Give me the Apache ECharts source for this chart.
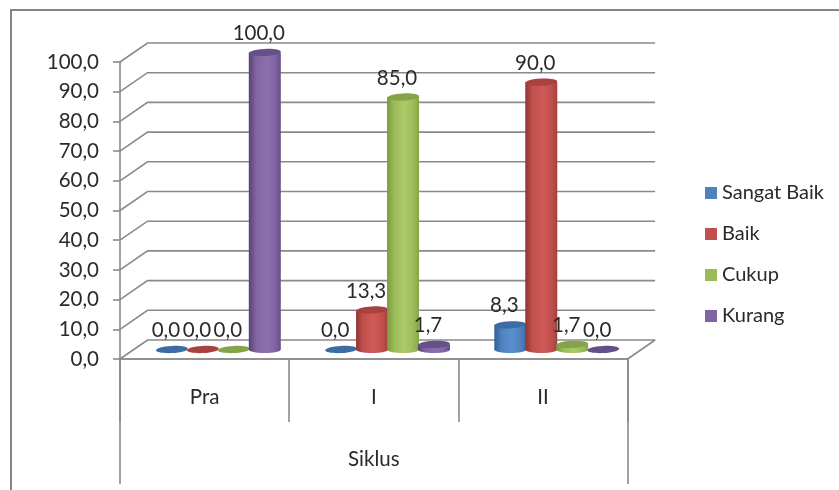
<!DOCTYPE html>
<html><head><meta charset="utf-8">
<style>html,body{margin:0;padding:0;background:#fff}#c{width:839px;height:490px}</style>
<script src="https://cdn.jsdelivr.net/npm/echarts@6/dist/echarts.min.js"></script>
</head><body><div id="c"></div>
<script>
var categories = ['Pra', 'I', 'II'];
var groupTitle = ['Siklus'];
var seriesNames = ['Sangat Baik', 'Baik', 'Cukup', 'Kurang'];
var sangatBaik = [0, 0, 8.3];
var baik = [0, 13.3, 90];
var cukup = [0, 85, 1.7];
var kurang = [100, 1.7, 0];
var yTicks = [0, 10, 20, 30, 40, 50, 60, 70, 80, 90, 100];

var FONT = 'Lato';
var TEXT = '#2a2a2a';
var LINE = '#8a8a8a';
var DEPTH_X = 27.5, DEPTH_Y = 19;
var SLOT = 0.183;
var RX = 16, RY = 3.6, TILT = 0.05;
var palette = [
  {base:'#4f81bd', edge:'#2f5f97', mid:'#5b90cf', right:'#3a6ea9', top:'#3d6ca4'},
  {base:'#c0504d', edge:'#8f3432', mid:'#d05a57', right:'#a53f3c', top:'#a8423f'},
  {base:'#9bbb59', edge:'#7a9a3c', mid:'#acca68', right:'#86a548', top:'#84a447'},
  {base:'#8064a2', edge:'#574272', mid:'#8d6fb0', right:'#664e88', top:'#66508a'}
];
function fmt(v){ return v.toFixed(1).replace('.', ','); }

function cylinder(si){
  return function(params, api){
    var cat = api.value(0), val = api.value(1);
    var band = api.size([1, 0])[0];
    var top = api.coord([cat, val]);
    var bot = api.coord([cat, 0]);
    var cx = top[0] + (si - 1.5) * SLOT * band + DEPTH_X / 2;
    var ty = top[1] - DEPTH_Y / 2, by = bot[1] - DEPTH_Y / 2;
    var p = palette[si];
    var grad = {type:'linear', x:0, y:0, x2:1, y2:0, colorStops:[
      {offset:0, color:p.edge},{offset:0.22, color:p.base},{offset:0.55, color:p.mid},{offset:0.82, color:p.base},{offset:1, color:p.right}]};
    var kids = [];
    if (val > 0) {
      kids.push({type:'ellipse', shape:{cx:cx, cy:by, rx:RX, ry:RY}, style:{fill:grad}, z2:si*3});
      kids.push({type:'rect', shape:{x:cx-RX, y:ty, width:RX*2, height:by-ty}, style:{fill:grad}, z2:si*3+1});
    }
    kids.push({type:'ellipse', x:cx, y:ty, rotation:TILT, shape:{cx:0, cy:0, rx:RX, ry:RY}, style:{fill:p.top}, z2:si*3+2});
    kids.push({type:'text', x:cx-6, y:ty-19, z2:50, style:{text:fmt(val), fill:TEXT, font:'20.5px '+FONT, align:'center', verticalAlign:'middle'}});
    return {type:'group', children:kids};
  };
}

function gridRender(params, api){
  var v = api.value(0);
  var cs = params.coordSys;
  var y = api.coord([0, v])[1];
  var x0 = cs.x, x1 = cs.x + cs.width;
  var st = {stroke:LINE, lineWidth:1.6, fill:'none'};
  var kids = [{type:'polyline', shape:{points:[[x0,y],[x0+DEPTH_X,y-DEPTH_Y],[x1+DEPTH_X,y-DEPTH_Y]]}, style:st}];
  if (v === 0) kids.push({type:'line', shape:{x1:x1, y1:y, x2:x1+DEPTH_X, y2:y-DEPTH_Y}, style:st});
  return {type:'group', children:kids};
}

var series = [{type:'custom', name:'grid', silent:true, renderItem:gridRender, xAxisIndex:0, yAxisIndex:0,
  data:yTicks.map(function(t){return [t];}), encode:{y:0}, z:1}];
[sangatBaik, baik, cukup, kurang].forEach(function(arr, si){
  series.push({type:'custom', name:seriesNames[si], renderItem:cylinder(si), xAxisIndex:0, yAxisIndex:0,
    itemStyle:{color:palette[si].base}, silent:true, z:3,
    data:arr.map(function(v,i){return [i,v];}), encode:{x:0,y:1}});
});

var axisLine = {show:true, onZero:false, lineStyle:{color:LINE, width:1.6}};
var chart = echarts.init(document.getElementById('c'), null, {renderer:'canvas'});
chart.setOption({
  animation:false,
  backgroundColor:'#ffffff',
  grid:{left:120, top:62, width:507.6, height:297, containLabel:false},
  legend:{data:seriesNames, orient:'vertical', left:705, top:183, icon:'rect', itemWidth:12, itemHeight:12, itemGap:21,
    textStyle:{fontFamily:FONT, fontSize:20, color:TEXT}, selectedMode:false, padding:0},
  xAxis:[
    {type:'category', data:categories, position:'bottom', axisLine:axisLine,
     axisTick:{show:true, length:63, lineStyle:{color:LINE, width:1.6}},
     axisLabel:{margin:28, fontFamily:FONT, fontSize:20.5, color:TEXT}},
    {type:'category', data:groupTitle, position:'bottom', axisLine:axisLine,
     axisTick:{show:true, length:125, lineStyle:{color:LINE, width:1.6}},
     axisLabel:{margin:90, fontFamily:FONT, fontSize:20.5, color:TEXT}}
  ],
  yAxis:{type:'value', min:0, max:100, interval:10, axisLine:axisLine,
    axisTick:{show:true, length:7, lineStyle:{color:LINE, width:1.6}},
    splitLine:{show:false},
    axisLabel:{margin:21, fontFamily:FONT, fontSize:20.5, color:TEXT, padding:[3,0,0,0], formatter:function(v){return fmt(v);}}},
  graphic:[{type:'polyline', silent:true, shape:{points:[[11,490],[11,10],[839,10]]}, style:{stroke:'#858585', lineWidth:2, fill:'none'}}],
  series:series
});
</script></body></html>
